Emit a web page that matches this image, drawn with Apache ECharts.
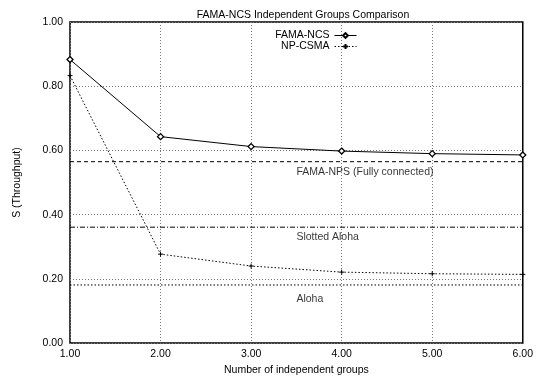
<!DOCTYPE html>
<html>
<head>
<meta charset="utf-8">
<script src="https://cdn.jsdelivr.net/npm/echarts@6/dist/echarts.min.js"></script>
<style>
  html, body { margin: 0; padding: 0; background: #fff; }
  #chart { width: 536px; height: 381px; }
</style>
</head>
<body>
<div id="chart"></div>
<script>
// Number of independent groups
const groups = [1, 2, 3, 4, 5, 6];
// Throughput per protocol
const famaNcs = [0.883, 0.643, 0.612, 0.598, 0.590, 0.586];
const npCsma  = [0.833, 0.277, 0.240, 0.221, 0.216, 0.214];
// Reference throughput levels
const famaNps = 0.565;
const slottedAloha = 0.361;
const aloha = 0.181;
// Reference line captions
const captions = [
  { text: 'FAMA-NPS (Fully connected)', x: 3.5, y: 0.531 },
  { text: 'Slotted Aloha', x: 3.5, y: 0.331 },
  { text: 'Aloha', x: 3.5, y: 0.137 }
];

const font = 'Liberation Sans, Arial, Helvetica, sans-serif';
const fs = 10.5;
const chart = echarts.init(document.getElementById('chart'), null, { renderer: 'canvas' });

const pts = (xs, ys) => xs.map((x, i) => [x, ys[i]]);
const flat = v => [[groups[0], v], [groups[groups.length - 1], v]];
const plus = 'path://M0,-1L0,1M-1,0L1,0';
const gridLine = { show: true, lineStyle: { color: '#777', type: [1, 2], width: 1 } };

const option = {
  animation: false,
  backgroundColor: '#fff',
  title: {
    text: 'FAMA-NCS Independent Groups Comparison',
    left: 298, textAlign: 'center', top: 5,
    textStyle: { fontFamily: font, fontSize: fs, fontWeight: 'normal', color: '#000' }
  },
  legend: {
    orient: 'vertical', align: 'right',
    right: 174, top: 25, itemGap: 0,
    itemWidth: 22, itemHeight: 6,
    lineStyle: { width: 1 },
    textStyle: { fontFamily: font, fontSize: fs, color: '#000', padding: [0, 0, 0, 0] },
    data: ['FAMA-NCS', 'NP-CSMA']
  },
  grid: { left: 70, right: 9, top: 22, bottom: 31, show: true, borderColor: '#000', borderWidth: 1.5 },
  xAxis: {
    type: 'value', min: 1, max: 6, interval: 1,
    name: 'Number of independent groups', nameLocation: 'middle', nameGap: 19,
    nameTextStyle: { fontFamily: font, fontSize: fs, color: '#000' },
    axisLine: { show: false },
    axisTick: { show: false },
    axisLabel: { fontFamily: font, fontSize: fs, color: '#000', margin: 6, formatter: v => v.toFixed(2) },
    splitLine: gridLine
  },
  yAxis: {
    type: 'value', min: 0, max: 1, interval: 0.2,
    name: 'S (Throughput)', nameLocation: 'middle', nameGap: 47, nameRotate: 90,
    nameTextStyle: { fontFamily: font, fontSize: fs, color: '#000' },
    axisLine: { show: false },
    axisTick: { show: false },
    axisLabel: { fontFamily: font, fontSize: fs, color: '#000', margin: 7, formatter: v => v.toFixed(2) },
    splitLine: gridLine
  },
  series: [
    {
      name: 'FAMA-NCS', type: 'line', data: pts(groups, famaNcs),
      symbol: 'diamond', symbolSize: 6, showAllSymbol: true,
      lineStyle: { color: '#000', width: 1 },
      itemStyle: { color: '#fff', borderColor: '#000', borderWidth: 1.3 },
      z: 5
    },
    {
      name: 'NP-CSMA', type: 'line', data: pts(groups, npCsma),
      symbol: plus, symbolSize: 5, showAllSymbol: true,
      lineStyle: { color: '#000', width: 1, type: [1.5, 2] },
      itemStyle: { color: 'none', borderColor: '#000', borderWidth: 1 },
      z: 5
    },
    {
      name: 'FAMA-NPS', type: 'line', data: flat(famaNps), symbol: 'none',
      lineStyle: { color: '#000', width: 1, type: [4, 3] }
    },
    {
      name: 'Slotted Aloha', type: 'line', data: flat(slottedAloha), symbol: 'none',
      lineStyle: { color: '#000', width: 1, type: [5, 2, 1, 2] }
    },
    {
      name: 'Aloha', type: 'line', data: flat(aloha), symbol: 'none',
      lineStyle: { color: '#000', width: 1, type: [1.5, 2] }
    },
    {
      name: 'captions', type: 'scatter', symbolSize: 0, silent: true,
      data: captions.map(c => ({ value: [c.x, c.y], name: c.text })),
      label: {
        show: true, position: [0, 0], align: 'left', verticalAlign: 'middle',
        formatter: p => p.name,
        fontFamily: font, fontSize: fs, color: '#000'
      }
    }
  ]
};

chart.setOption(option);
</script>
</body>
</html>
